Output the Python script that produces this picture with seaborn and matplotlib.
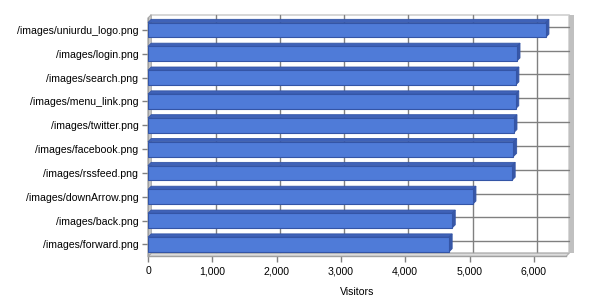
import matplotlib
matplotlib.use("Agg")
import matplotlib.pyplot as plt
import seaborn as sns
import pandas as pd
import numpy as np
from matplotlib.patches import Polygon, Rectangle
from matplotlib.lines import Line2D
from matplotlib.transforms import ScaledTranslation

# ---- data ----
pages = ["/images/uniurdu_logo.png", "/images/login.png", "/images/search.png",
         "/images/menu_link.png", "/images/twitter.png", "/images/facebook.png",
         "/images/rssfeed.png", "/images/downArrow.png", "/images/back.png",
         "/images/forward.png"]
visitors = [6185, 5735, 5718, 5716, 5688, 5683, 5660, 5050, 4728, 4680]
x_ticks = [0, 1000, 2000, 3000, 4000, 5000, 6000]
x_tick_labels = ["0", "1,000", "2,000", "3,000", "4,000", "5,000", "6,000"]
x_label = "Visitors"

FRONT = "#4F7BD8"
EDGE = "#3455A6"
TOP = "#3F62B8"
SIDE = "#3858A8"
GRID = "#808080"

sns.set_theme(style="white")
plt.rcParams['font.family'] = ['Liberation Sans', 'DejaVu Sans']

DPI = 100
fig = plt.figure(figsize=(6, 3), dpi=DPI)
fig.patch.set_facecolor("white")
ax = fig.add_axes([148 / 600, 43.6 / 300, 418 / 600, 238.4 / 300])
ax.patch.set_alpha(0)

df = pd.DataFrame({"page": pages, "visitors": visitors})
sns.barplot(data=df, x="visitors", y="page", orient="h", color=FRONT,
            saturation=1, width=0.62, edgecolor=EDGE, linewidth=0.8,
            ax=ax, zorder=5)
ax.set_xlim(0, 6500)
ax.set_ylim(len(pages) - 0.5, -0.5)

D = 3.2  # depth in pixels
off = ScaledTranslation(D / DPI, D / DPI, fig.dpi_scale_trans)

# back wall
ax.add_patch(Rectangle((0, 0), 1, 1, transform=ax.transAxes + off,
                       facecolor="white", edgecolor="#D0D0D0", lw=1.2, zorder=0,
                       clip_on=False))
# right wall thickness
ax.add_patch(Rectangle((1, 0), 4.5 / 418, 1, transform=ax.transAxes + off,
                       facecolor="#C0C0C0", edgecolor="none", zorder=0.5,
                       clip_on=False))

# back gridlines
for t in x_ticks[1:]:
    ax.add_line(Line2D([t, t], [len(pages) - 0.5, -0.5], transform=ax.transData + off,
                       color=GRID, lw=1, zorder=1, clip_on=False))
for i in range(len(pages)):
    ax.add_line(Line2D([0, 6500], [i, i], transform=ax.transData + off,
                       color=GRID, lw=1, zorder=1, clip_on=False))

inv_axes = ax.transAxes.inverted()
def wall(front_pts_axes, color, edge, z):
    disp = ax.transAxes.transform(front_pts_axes)
    back = disp[::-1] + np.array([D, D])
    pts = np.vstack([disp, back])
    ax.add_patch(Polygon(inv_axes.transform(pts), closed=True, transform=ax.transAxes,
                         facecolor=color, edgecolor=edge, lw=0.8, zorder=z,
                         clip_on=False))

# floor and left wall
wall([(0, 0), (1, 0)], "#DCDCDC", "#B0B0B0", 2)
wall([(0, 0), (0, 1)], "#D0D0D0", "#A8A8A8", 2)

# 3D faces of bars
inv_data = ax.transData.inverted()
for bar in ax.containers[0]:
    x0, y0 = bar.get_x(), bar.get_y()
    w, h = bar.get_width(), bar.get_height()
    c = ax.transData.transform([(x0, y0), (x0 + w, y0), (x0 + w, y0 + h), (x0, y0 + h)])
    ys = c[:, 1]
    top_y, bot_y = ys.max(), ys.min()
    left_x, right_x = c[:, 0].min(), c[:, 0].max()
    tl = np.array([left_x, top_y]); tr = np.array([right_x, top_y])
    br = np.array([right_x, bot_y]); dd = np.array([D, D])
    top_face = np.array([tl, tr, tr + dd, tl + dd])
    side_face = np.array([tr, br, br + dd, tr + dd])
    ax.add_patch(Polygon(inv_data.transform(top_face), closed=True, transform=ax.transData,
                         facecolor=TOP, edgecolor=EDGE, lw=0.6, zorder=4, clip_on=False))
    ax.add_patch(Polygon(inv_data.transform(side_face), closed=True, transform=ax.transData,
                         facecolor=SIDE, edgecolor=EDGE, lw=0.6, zorder=4, clip_on=False))

# axes styling
for s in ["top", "right"]:
    ax.spines[s].set_visible(False)
for s in ["left", "bottom"]:
    ax.spines[s].set_color("#A0A0A0")
    ax.spines[s].set_linewidth(1)
    ax.spines[s].set_zorder(3)

ax.set_xticks(x_ticks)
ax.set_xticklabels(x_tick_labels)
ax.tick_params(axis="both", which="major", length=4, width=1, color=GRID,
               labelsize=7.6, labelcolor="black", pad=3, left=True, bottom=True)
ax.set_ylabel("")
ax.set_xlabel(x_label, fontsize=7.6, labelpad=8, color="black")
ax.grid(False)

fig.savefig("out.png", dpi=DPI)
